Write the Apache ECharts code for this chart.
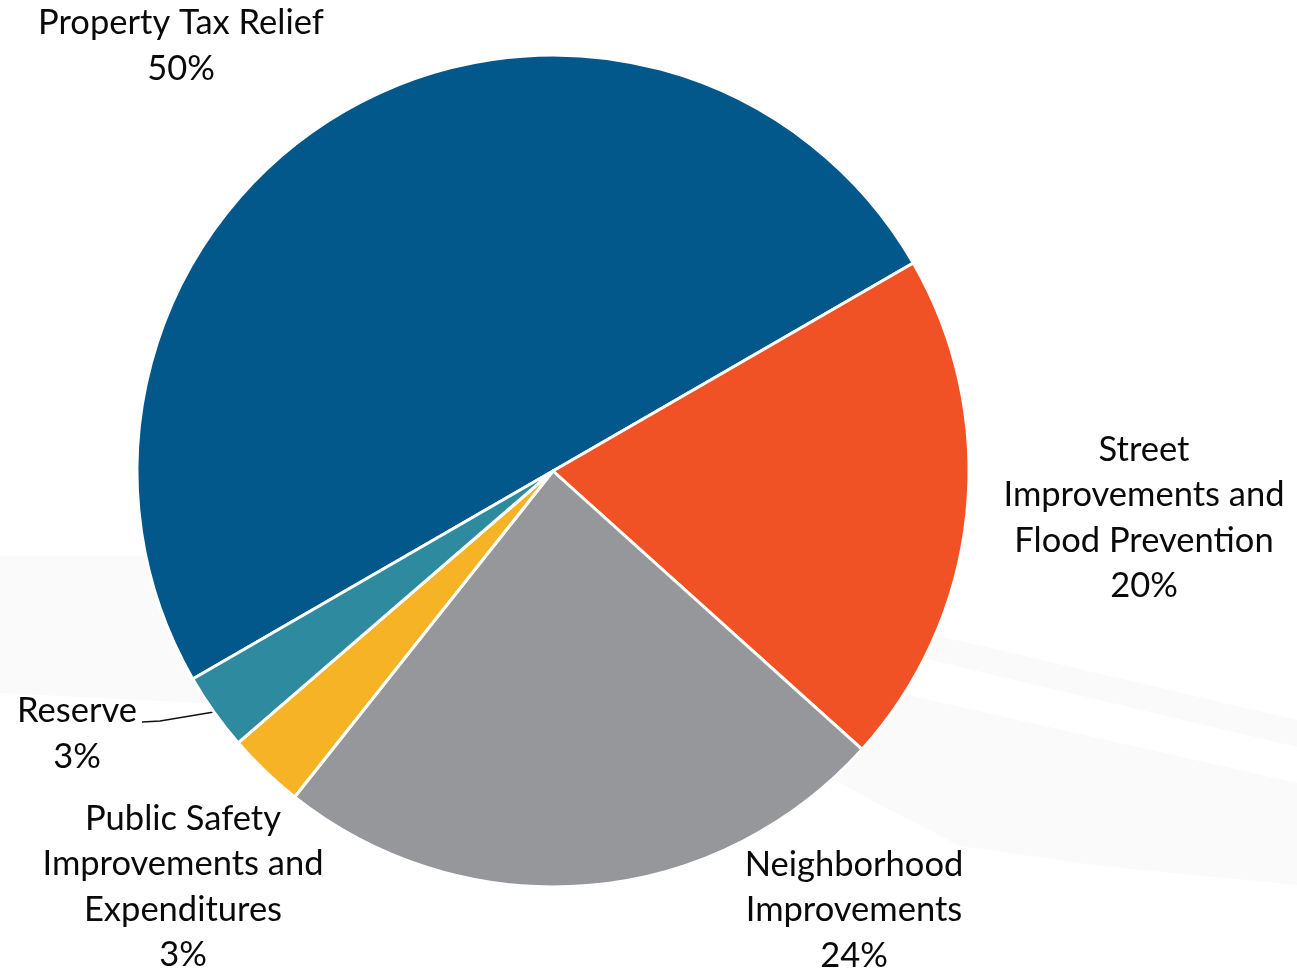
<!DOCTYPE html>
<html>
<head>
<meta charset="utf-8">
<script src="https://cdn.jsdelivr.net/npm/echarts@6/dist/echarts.min.js"></script>
<style>
html,body{margin:0;padding:0;background:#fff;}
#chart{width:1297px;height:970px;}
</style>
</head>
<body>
<div id="chart"></div>
<script>
const categories = [
  "Property Tax Relief",
  "Street\nImprovements and\nFlood Prevention",
  "Neighborhood\nImprovements",
  "Public Safety\nImprovements and\nExpenditures",
  "Reserve"
];
const values = [50, 20, 24, 3, 3];
const colors = ["#02578B", "#F05226", "#96979B", "#F5B325", "#2E8A9E"];
const labelCenters = [[181, 46], [1144, 518], [854, 910], [183, 887], [77, 734]];

const chart = echarts.init(document.getElementById('chart'));
const FONT = 'Lato';
const BG = '#fafafa';
chart.setOption({
  animation: false,
  backgroundColor: '#ffffff',
  graphic: [
    { type: 'polygon', z: -10, silent: true,
      shape: { points: [[0,556],[320,556],[320,709],[0,693]] },
      style: { fill: BG } },
    { type: 'polygon', z: -10, silent: true,
      shape: { points: [[880,622],[1297,720],[1297,747],[880,648]] },
      style: { fill: BG } },
    { type: 'polygon', z: -10, silent: true,
      shape: { points: [[850,682],[1297,783],[1297,885],[1100,866],[960,846],[880,805],[800,760]] },
      style: { fill: BG } }
  ],
  series: [{
    type: 'pie',
    center: [553, 471],
    radius: 416,
    startAngle: 210,
    clockwise: true,
    itemStyle: { borderColor: '#ffffff', borderWidth: 3 },
    label: {
      show: true,
      position: 'outside',
      formatter: '{b}\n{c}%',
      fontFamily: FONT,
      fontSize: 34.5,
      lineHeight: 45.5,
      color: '#0a0a0a',
      align: 'center',
      overflow: 'none'
    },
    labelLine: { show: false, length: 20, length2: 20, lineStyle: { color: '#111', width: 1.5 } },
    labelLayout: function (p) {
      const c = labelCenters[p.dataIndex];
      const out = { x: c[0], y: c[1], align: 'center', verticalAlign: 'middle', hideOverlap: false, moveOverlap: null };
      if (p.dataIndex === 4 && p.labelLinePoints && p.labelLinePoints.length) {
        const s = p.labelLinePoints[0];
        out.labelLinePoints = [s, [160, 721], [142, 722]];
      }
      return out;
    },
    data: categories.map(function (name, i) {
      const d = { name: name, value: values[i], itemStyle: { color: colors[i] } };
      if (i === 4) d.labelLine = { show: true };
      return d;
    })
  }]
});
</script>
</body>
</html>
